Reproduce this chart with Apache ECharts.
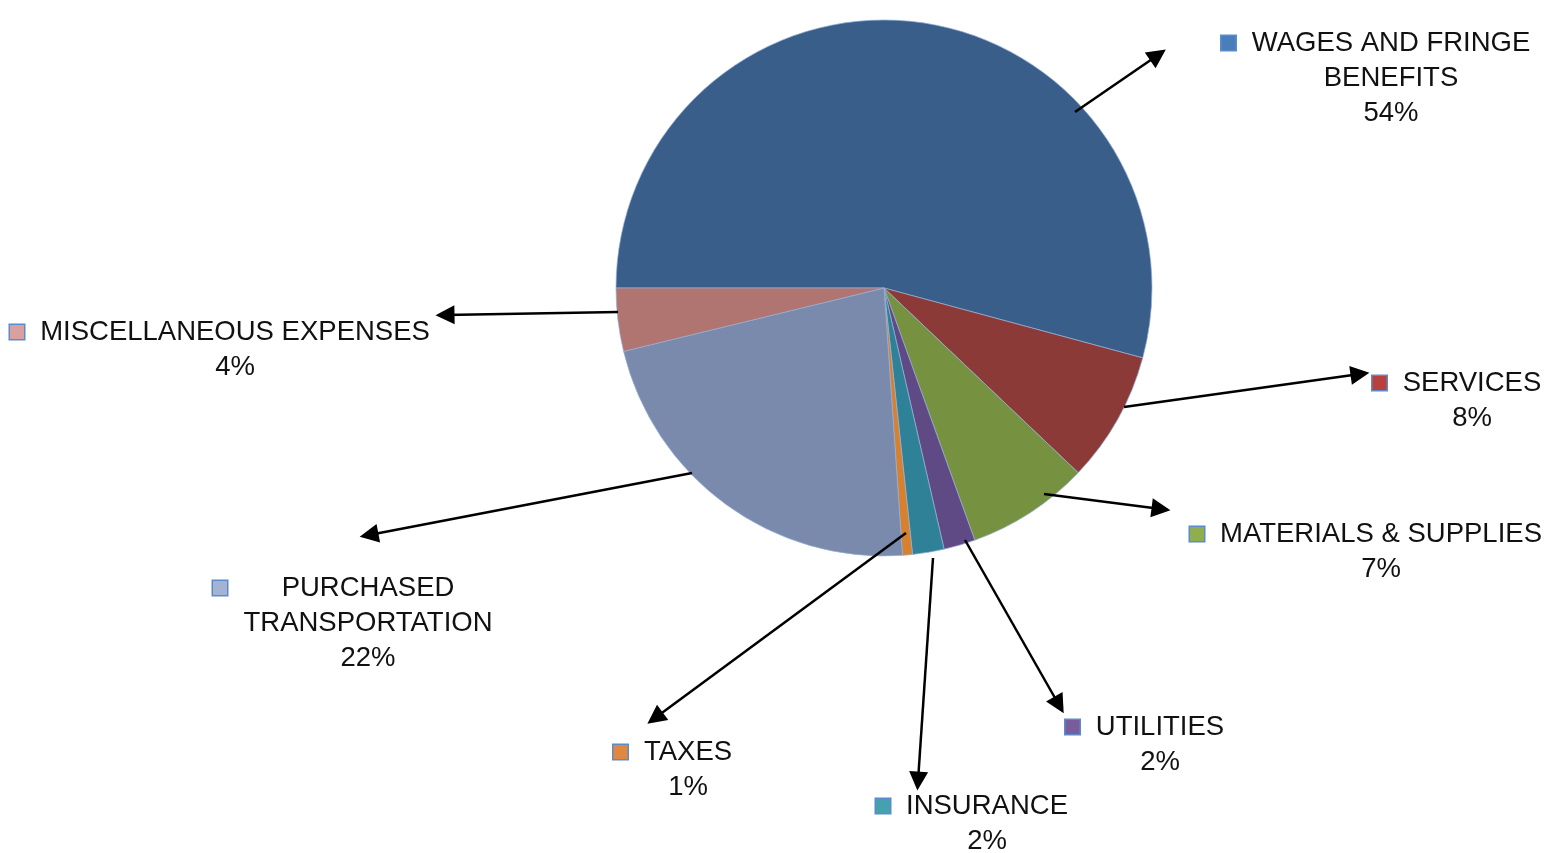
<!DOCTYPE html>
<html><head><meta charset="utf-8">
<script src="https://cdn.jsdelivr.net/npm/echarts@6/dist/echarts.min.js"></script>
<style>html,body{margin:0;padding:0;background:#fff}#c{width:1556px;height:853px}</style>
</head><body><div id="c"></div>
<script>
// ---- data ----
const categories = ['WAGES AND FRINGE BENEFITS', 'SERVICES', 'MATERIALS & SUPPLIES', 'UTILITIES', 'INSURANCE', 'TAXES', 'PURCHASED TRANSPORTATION', 'MISCELLANEOUS EXPENSES'];
const labelTextLines = [['WAGES AND FRINGE', 'BENEFITS'], ['SERVICES'], ['MATERIALS & SUPPLIES'], ['UTILITIES'], ['INSURANCE'], ['TAXES'], ['PURCHASED', 'TRANSPORTATION'], ['MISCELLANEOUS EXPENSES']];
const values = [54.2, 7.9, 7.4, 1.9, 1.9, 0.6, 22.3, 3.8];

// ---- styling / annotation layout ----
const sliceColors = ['#395E8A', '#8B3A38', '#76913F', '#5F4A85', '#2F8197', '#D7812F', '#7A8AAC', '#B07570'];
const keyColors = ['#4A7EBB', '#B8403F', '#8FAF4E', '#7A5C9C', '#45A0B0', '#E0883F', '#A3B3D4', '#D9A0A0'];
const labelAnchors = [[1391, 43], [1472, 383], [1381, 534], [1160, 727], [987, 806], [688, 752], [368, 588], [235, 332]];
const arrowStarts = [[1075, 112], [1124, 407], [1044, 494], [965, 540], [933, 558], [906, 533], [692, 473], [618, 312]];
const arrowEnds = [[1158, 55], [1360, 374], [1161, 509], [1059, 705], [918, 781], [655, 718], [369, 535], [445, 315]];

const FONT_SIZE = 27.5, LINE_H = 35, FONT_FAMILY = '"Liberation Sans", Arial, sans-serif';
const ctx = document.createElement('canvas').getContext('2d');
ctx.font = FONT_SIZE + 'px ' + FONT_FAMILY;
const total = values.reduce((a, b) => a + b, 0);
const textBase = {fontSize: FONT_SIZE, fontFamily: FONT_FAMILY, color: '#111', lineHeight: LINE_H};

const pieData = categories.map((name, i) => {
  const pct = Math.round(values[i] / total * 100) + '%';
  const lines = labelTextLines[i].concat([pct]);
  const W = Math.ceil(Math.max.apply(null, lines.map(l => ctx.measureText(l).width))) + 2;
  const full = W + 58;
  const rich = {
    sq: {width: 14, height: 14, backgroundColor: keyColors[i], borderColor: '#5B8BC9', borderWidth: 1.5, lineHeight: LINE_H},
    g: {width: 15, lineHeight: LINE_H},
    t1: Object.assign({width: W, align: 'center'}, textBase),
    g2: {width: 29, lineHeight: LINE_H},
    l: Object.assign({width: full, align: 'center'}, textBase)
  };
  const text = '{sq|}{g|}{t1|' + lines[0] + '}{g2|}\n' + lines.slice(1).map(l => '{l|' + l + '}').join('\n');
  return {name: name, value: values[i], itemStyle: {color: sliceColors[i]}, label: {formatter: text, rich: rich}};
});

const chart = echarts.init(document.getElementById('c'));
chart.setOption({
  animation: false,
  backgroundColor: '#fff',
  grid: {left: 0, top: 0, right: 0, bottom: 0},
  xAxis: {type: 'value', min: 0, max: 1556, show: false},
  yAxis: {type: 'value', min: 0, max: 853, inverse: true, show: false},
  series: [
    {
      type: 'pie',
      center: [884, 288],
      radius: 268,
      startAngle: 180,
      clockwise: true,
      avoidLabelOverlap: false,
      itemStyle: {borderColor: 'rgba(150,175,215,0.7)', borderWidth: 1},
      label: {show: true, position: 'outside'},
      labelLine: {show: false},
      labelLayout: function (p) {
        const a = labelAnchors[p.dataIndex];
        return {x: a[0], y: a[1] - LINE_H / 2, align: 'center', verticalAlign: 'top'};
      },
      emphasis: {disabled: true},
      data: pieData,
      z: 1
    },
    {
      type: 'lines',
      coordinateSystem: 'cartesian2d',
      z: 5,
      symbol: ['none', 'triangle'],
      symbolSize: 19,
      lineStyle: {color: '#000', width: 2.5, opacity: 1, curveness: 0},
      silent: true,
      data: arrowStarts.map((s, i) => ({coords: [s, arrowEnds[i]]}))
    }
  ]
});
</script>
</body></html>
